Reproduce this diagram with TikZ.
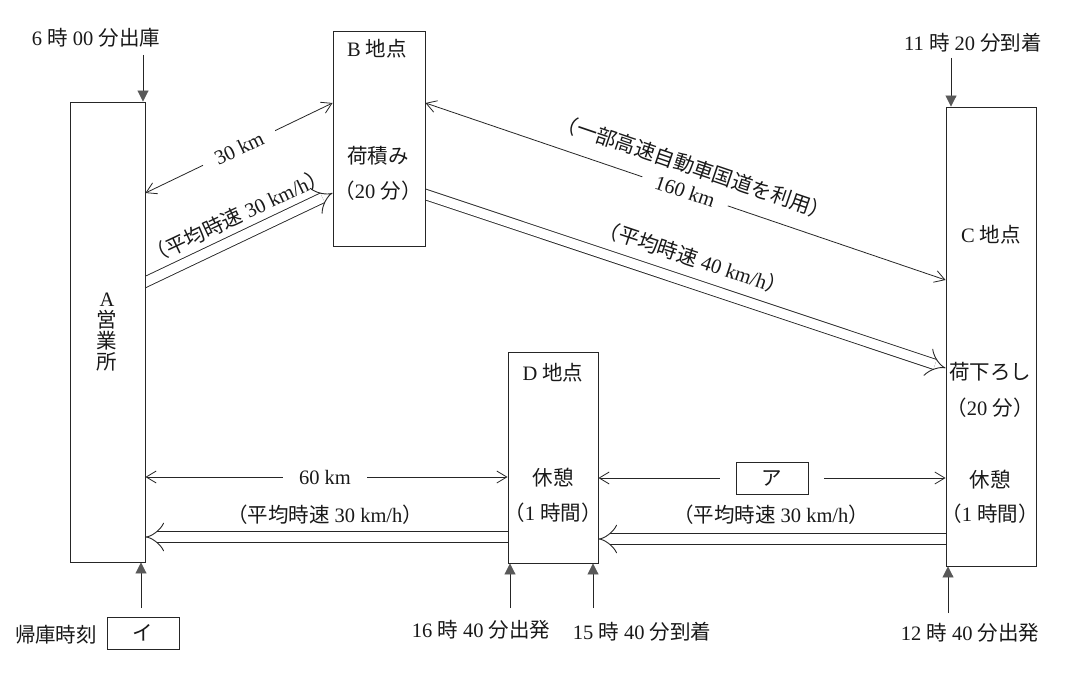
\documentclass[tikz,border=0pt]{standalone}
\usepackage{fontspec}
\setmainfont{Liberation Serif}
\newfontfamily\jp{Noto Sans CJK JP}
\newcommand{\jt}[1]{{\jp #1}}
\usetikzlibrary{arrows.meta,calc}
\pgfdeclarelayer{bg}
\pgfsetlayers{bg,main}
\begin{document}
\begin{tikzpicture}[x=1pt,y=1pt,
  font=\fontsize{20.5}{24}\selectfont,
  ln/.style={draw=black!85, line width=0.9pt},
  box/.style={ln, fill=white, inner sep=0pt},
  txt/.style={text=black!90, inner sep=1pt},
  gap/.style={txt, fill=white, inner xsep=14pt, inner ysep=2pt},
  dim/.style={draw=black!85, line width=0.8pt, {Straight Barb[length=10pt,width=12pt]}-{Straight Barb[length=10pt,width=12pt]}},
  half/.style={draw=black!85, line width=0.8pt, -{Straight Barb[length=10pt,width=12pt]}},
  tri/.style={draw=black!85, line width=0.9pt, -{Triangle[length=11pt,width=11pt,fill=black!65,color=black!65]}},
  dbl/.style={draw=black!85, line width=0.9pt, double=white, double distance=9.5pt, -{Implies}},
  ansbox/.style={ln, txt, minimum width=72pt, minimum height=32pt, inner sep=0pt},
]
\path[use as bounding box] (0,0) rectangle (1071,-679);

% boxes
\node[box, minimum width=75pt, minimum height=460pt] (A) at (107.5,-332) {};
\node[box, minimum width=92pt, minimum height=215pt] (B) at (379,-138.5) {};
\node[box, minimum width=90pt, minimum height=459pt] (C) at (991,-336.5) {};
\node[box, minimum width=90pt, minimum height=211pt] (D) at (553,-457.5) {};

% box texts
\node[txt, align=center, font=\fontsize{20.5}{21}\selectfont] (Alab) at (107,-332) {A\\\jt{営}\\\jt{業}\\\jt{所}};
\node[txt] (Bname) at (377,-49) {B \jt{地点}};
\node[txt] (Bwork) at (378,-156) {\jt{荷積み}};
\node[txt] (Btime) at (378,-191) {\jt{（}20 \jt{分）}};
\node[txt] (Cname) at (991,-235) {C \jt{地点}};
\node[txt] (Cwork) at (990,-372) {\jt{荷下ろし}};
\node[txt] (Ctime) at (990,-408) {\jt{（}20 \jt{分）}};
\node[txt] (Crest) at (990,-480) {\jt{休憩}};
\node[txt] (Crt) at (990,-514) {\jt{（}1 \jt{時間）}};
\node[txt] (Dname) at (553,-373) {D \jt{地点}};
\node[txt] (Drest) at (553,-478) {\jt{休憩}};
\node[txt] (Drt) at (553,-513) {\jt{（}1 \jt{時間）}};

% endpoints
\coordinate (a1) at (A.east |- 0,-193);
\coordinate (b1) at (B.west |- 0,-103);
\coordinate (a2) at (A.east |- 0,-282);
\coordinate (b2) at (B.west |- 0,-193);
\coordinate (b3) at (B.east |- 0,-103);
\coordinate (c3) at (C.west |- 0,-280);
\coordinate (b4) at (B.east |- 0,-194.5);
\coordinate (c4) at (C.west |- 0,-368);
\coordinate (a5) at (A.east |- 0,-477);
\coordinate (d5) at (D.west |- 0,-477);
\coordinate (a6) at (A.east |- 0,-537);
\coordinate (d6) at (D.west |- 0,-537);
\coordinate (d7) at (D.east |- 0,-478);
\coordinate (c7) at (C.west |- 0,-478);
\coordinate (d8) at (D.east |- 0,-539);
\coordinate (c8) at (C.west |- 0,-539);

% time markers
\coordinate (tA) at (143,-55);
\coordinate (tC) at (951,-58);
\coordinate (bA) at (141,-608);
\coordinate (bD1) at (510,-608);
\coordinate (bD2) at (593,-608);
\coordinate (bC) at (948,-613);

\begin{pgfonlayer}{bg}
\fill[white] (0,0) rectangle (1071,-679);
\draw[dim] (a1) -- (b1);
\draw[dbl] ($(a2)!-6pt!(b2)$) -- (b2);
\draw[dim] (b3) -- (c3);
\draw[dbl] ($(b4)!-6pt!(c4)$) -- (c4);
\draw[dim] (a5) -- (d5);
\draw[dbl] ($(d6)!-6pt!(a6)$) -- (a6);
\draw[dbl] ($(c8)!-6pt!(d8)$) -- (d8);
\draw[tri] (tA) -- (tA |- A.north);
\draw[tri] (tC) -- (tC |- C.north);
\draw[tri] (bA) -- (bA |- A.south);
\draw[tri] (bD1) -- (bD1 |- D.south);
\draw[tri] (bD2) -- (bD2 |- D.south);
\draw[tri] (bC) -- (bC |- C.south);
\end{pgfonlayer}

% answer box ア and its arrows
\node[ansbox] (ka) at (772,-478) {\jt{ア}};
\draw[half, shorten <=16pt] (ka.west) -- (d7);
\draw[half, shorten <=16pt] (ka.east) -- (c7);

% labels on connectors
\node[gap, rotate=25.6] (l30) at (239,-148) {30 km};
\node[txt, rotate=25.3] (s1) at (237,-216) {\jt{（平均時速} 30 km/h\jt{）}};
\node[gap, rotate=-18.8] (l160) at (685,-191.5) {160 km};
\node[txt, rotate=-18.8] (hw) at (694,-167) {\jt{（一部高速自動車国道を利用）}};
\node[txt, rotate=-18.45] (s2) at (693,-258) {\jt{（平均時速} 40 km/h\jt{）}};
\node[gap, inner xsep=16pt] (l60) at (325,-477) {60 km};
\node[txt] (s3) at (325,-515) {\jt{（平均時速} 30 km/h\jt{）}};
\node[txt] (s4) at (771,-515) {\jt{（平均時速} 30 km/h\jt{）}};

% time texts
\node[txt] (t1) at (96,-38) {6 \jt{時} 00 \jt{分出庫}};
\node[txt] (t2) at (973,-43) {11 \jt{時} 20 \jt{分到着}};
\node[txt] (t3) at (56,-635) {\jt{帰庫時刻}};
\node[ansbox] (ki) at (143,-633) {\jt{イ}};
\node[txt] (t4) at (481,-630) {16 \jt{時} 40 \jt{分出発}};
\node[txt] (t5) at (642,-632) {15 \jt{時} 40 \jt{分到着}};
\node[txt] (t6) at (970,-633) {12 \jt{時} 40 \jt{分出発}};
\end{tikzpicture}
\end{document}
